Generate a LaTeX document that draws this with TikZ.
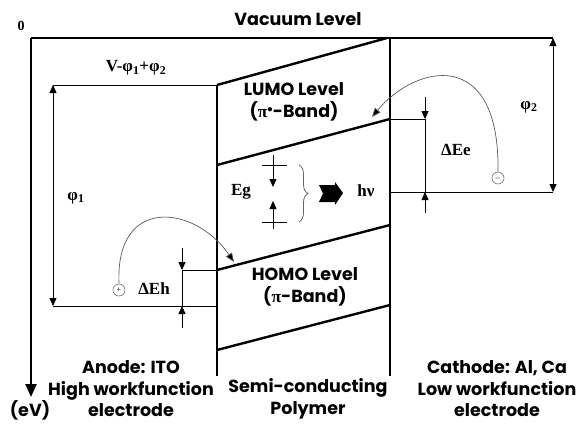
\documentclass[tikz,border=0pt]{standalone}
\usepackage{fontspec}
\setmainfont{Liberation Serif}
\newfontfamily\gothic{Poppins}
\usetikzlibrary{arrows.meta,positioning,decorations.pathreplacing}

\begin{document}
\begin{tikzpicture}[
  x=1pt,
  y=-1pt,
  thickline/.style={line width=2.4pt},
  thinline/.style={line width=0.8pt},
  tip/.style={-{Triangle[length=8pt,width=7pt]}},
  both/.style={{Triangle[length=8pt,width=7pt]}-{Triangle[length=8pt,width=7pt]}},
  hop/.style={draw=black!65, line width=0.7pt, -{Triangle[length=9pt,width=7pt,fill=black]}},
  caption/.style={font=\gothic\bfseries\fontsize{17.5}{21.5}\selectfont, align=center, inner sep=1pt},
  sym/.style={font=\bfseries\fontsize{17}{18}\selectfont, inner sep=1pt},
  carrier/.style={circle, draw=black!55, line width=0.6pt, minimum size=12pt, inner sep=0pt, font=\fontsize{8}{8}\selectfont}
]
  \useasboundingbox (0,0) rectangle (579,424);

  % Energy axis and vacuum level.
  \coordinate (zero) at (31,38);
  \coordinate (ev) at (31,397);
  \coordinate (vacR) at (553,38);
  \draw[thickline, -{Triangle[length=13pt,width=11pt]}] (zero) -- (ev);
  \draw[thickline] (zero) -- (vacR);
  \node[sym, font=\bfseries\fontsize{14}{14}\selectfont] (zlabel) at (21,26) {0};
  \node[caption] (vacuum) at (298,19) {Vacuum Level};

  % Polymer bands.
  \coordinate (lumoTL) at (217,85);
  \coordinate (lumoTR) at (387,38);
  \coordinate (lumoBL) at (217,165);
  \coordinate (lumoBR) at (390,119);
  \coordinate (homoTL) at (217,270);
  \coordinate (homoTR) at (390,225);
  \coordinate (homoBL) at (217,350);
  \coordinate (homoBR) at (390,305);
  \coordinate (polBL) at (217,376);
  \coordinate (polTR) at (390,38);
  \coordinate (polBR) at (390,376);
  \draw[thickline] (lumoTL) -- (polBL);
  \draw[thickline] (polTR) -- (polBR);
  \foreach \a/\b in {lumoTL/lumoTR, lumoBL/lumoBR, homoTL/homoTR, homoBL/homoBR}
    \draw[thickline] (\a) -- (\b);
  \node[caption] (lumo) at (294,102)
    {LUMO Level\\({\rmfamily π}\raisebox{0.55ex}{\fontsize{11}{11}\selectfont$\bullet$}-Band)};
  \node[caption] (homo) at (305,287)
    {HOMO Level\\({\rmfamily π}-Band)};

  % Anode levels.
  \coordinate (anTop) at (53,85);
  \coordinate (anBot) at (53,306);
  \coordinate (anBotR) at (217,306);
  \draw[thinline] (anTop) -- (lumoTL);
  \draw[thinline] (anBot) -- (anBotR);
  \draw[thinline, both] (anTop) -- (anBot);
  \node[sym] (vlabel) at (136,68) {V-φ\textsubscript{1}+φ\textsubscript{2}};
  \node[sym] (phi1) at (76,198) {φ\textsubscript{1}};

  % Hole barrier.
  \coordinate (dhTop) at (182,248);
  \coordinate (dhHi) at (182,270);
  \coordinate (dhLo) at (182,306);
  \coordinate (dhBot) at (182,328);
  \draw[thinline] (dhHi) -- (homoTL);
  \draw[thinline] (dhHi) -- (dhLo);
  \draw[thinline, tip] (dhTop) -- (dhHi);
  \draw[thinline, tip] (dhBot) -- (dhLo);
  \node[sym] (deh) at (154,289) {ΔEh};

  % Cathode levels.
  \coordinate (deTop) at (425,97);
  \coordinate (deHi) at (425,119);
  \coordinate (deLo) at (425,192);
  \coordinate (deBot) at (425,213);
  \coordinate (caBotL) at (390,192);
  \coordinate (phiBot) at (553,192);
  \draw[thinline] (lumoBR) -- (deHi);
  \draw[thinline] (caBotL) -- (phiBot);
  \draw[thinline, both] (vacR) -- (phiBot);
  \draw[thinline] (deHi) -- (deLo);
  \draw[thinline, tip] (deTop) -- (deHi);
  \draw[thinline, tip] (deBot) -- (deLo);
  \node[sym] (dee) at (456,150) {ΔEe};
  \node[sym] (phi2) at (529,107) {φ\textsubscript{2}};

  % Recombination across the gap.
  \coordinate (egUL) at (262,165);
  \coordinate (egUR) at (287,165);
  \coordinate (egUtop) at (273,155);
  \coordinate (egUtip) at (273,187);
  \coordinate (egLL) at (262,222);
  \coordinate (egLR) at (287,222);
  \coordinate (egLbot) at (273,229);
  \coordinate (egLtip) at (273,201);
  \draw[thinline] (egUL) -- (egUR);
  \draw[thinline] (egLL) -- (egLR);
  \draw[thinline, tip] (egUtop) -- (egUtip);
  \draw[thinline, tip] (egLbot) -- (egLtip);
  \node[sym] (eg) at (241,192) {Eg};
  \coordinate (braceTop) at (299,165);
  \coordinate (braceBot) at (299,222);
  \draw[decorate, decoration={brace, amplitude=9pt}, draw=black!60, line width=0.8pt] (braceTop) -- (braceBot);
  \coordinate (photon) at (331,193);
  \fill[shift={(photon)}] (-12,-8) -- (4,-8) -- (4,-11) -- (12,0) -- (4,12) -- (4,9)
    -- (-12,9) -- (-8,0.5) -- cycle;
  \node[sym] (hnu) at (366,191) {hν};

  % Carrier injection.
  \node[carrier] (hole) at (119,290) {+};
  \node[carrier] (electron) at (498,178) {$-$};
  \coordinate (holeEnd) at (234,262);
  \coordinate (elecEnd) at (372,117);
  \draw[hop] (hole.north) .. controls (115,195) and (195,205) .. (holeEnd);
  \draw[hop] (electron.north) .. controls (500,45) and (415,65) .. (elecEnd);

  % Bottom captions.
  \node[caption] (anode) at (131,389) {Anode: ITO\\High workfunction\\electrode};
  \node[caption] (polymer) at (308,399) {Semi-conducting\\Polymer};
  \node[caption] (cathode) at (497,389) {Cathode: Al, Ca\\Low workfunction\\electrode};
  \node[caption] (unit) at (30,410) {(eV)};
\end{tikzpicture}
\end{document}
